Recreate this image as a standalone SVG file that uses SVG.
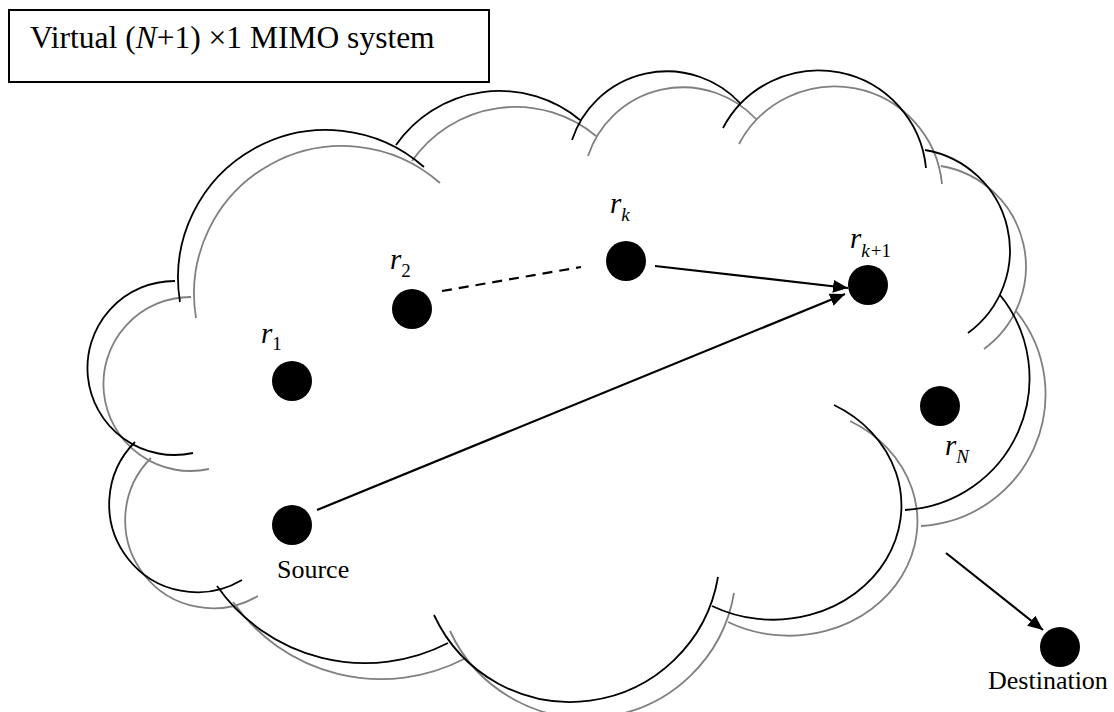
<svg xmlns="http://www.w3.org/2000/svg" xmlns:xlink="http://www.w3.org/1999/xlink" width="1114" height="712" viewBox="0 0 1114 712">
  <style>
    text { font-family: "Liberation Serif", "Times New Roman", serif; fill: #000; }
    .it { font-style: italic; }
    .lbl { font-size: 29px; }
    .sub { font-size: 19px; }
    .cap { font-size: 26px; }
    .node { fill: #000; }
    .link { stroke: #000; stroke-width: 2.2; fill: none; }
    .dash { stroke-dasharray: 10 7; }
    .outline { fill: none; stroke-width: 1.8; }
  </style>
  <defs>
    <!-- cloud outline: one arc per lobe, each lobe drawn as its own sub-path -->
    <path id="cloud" d="
      M193,453 A87,87 0 1,1 175,281
      M180,302 A148,148 0 0,1 424,167
      M396,145 A126,126 0 0,1 580,120
      M572,140 A100,100 0 0,1 740,103
      M723,128 A108,108 0 0,1 926,168
      M925,150 A102,102 0 0,1 968,333
      M1000,295 A132,132 0 0,1 905,510
      M834,405 A127,113 0 1,1 712,606
      M718,577 A150,150 0 0,1 434,615
      M448,643 A181,181 0 0,1 217,586
      M242,580 A88,88 0 0,1 135,442"/>
    <marker id="head" markerUnits="userSpaceOnUse" markerWidth="16" markerHeight="13" refX="15" refY="6.5" orient="auto">
      <path d="M0,0 L15,6.5 L0,13 z" fill="#000"/>
    </marker>
  </defs>

  <!-- title box -->
  <g id="title">
    <rect x="9" y="10" width="480" height="72" fill="none" stroke="#000" stroke-width="2"/>
    <text x="30" y="48" font-size="31.5">Virtual (<tspan class="it">N</tspan>+1) ×1 MIMO system</text>
  </g>

  <!-- cloud with its grey drop shadow -->
  <g id="cloud-shape">
    <use xlink:href="#cloud" href="#cloud" class="outline" stroke="#808080" transform="translate(16,16)"/>
    <use xlink:href="#cloud" href="#cloud" class="outline" stroke="#000"/>
  </g>

  <!-- links between nodes -->
  <g id="connectors">
    <line class="link dash" x1="442" y1="291" x2="581" y2="267"/>
    <line class="link" x1="655" y1="266" x2="848" y2="288" marker-end="url(#head)"/>
    <line class="link" x1="317" y1="510" x2="845" y2="294" marker-end="url(#head)"/>
    <line class="link" x1="946" y1="553" x2="1043" y2="630" marker-end="url(#head)"/>
  </g>

  <g id="node-r1">
    <circle class="node" cx="292" cy="381" r="20"/>
    <text x="261" y="343" class="lbl"><tspan class="it">r</tspan><tspan class="sub" dy="7">1</tspan></text>
  </g>
  <g id="node-r2">
    <circle class="node" cx="412" cy="309" r="20"/>
    <text x="390" y="269" class="lbl"><tspan class="it">r</tspan><tspan class="sub" dy="8">2</tspan></text>
  </g>
  <g id="node-rk">
    <circle class="node" cx="626" cy="261" r="20"/>
    <text x="610" y="213" class="lbl"><tspan class="it">r</tspan><tspan class="sub it" dy="8">k</tspan></text>
  </g>
  <g id="node-rk1">
    <circle class="node" cx="868" cy="285" r="20"/>
    <text x="850" y="248" class="lbl"><tspan class="it">r</tspan><tspan class="sub it" dy="9">k</tspan><tspan class="sub" dx="1">+1</tspan></text>
  </g>
  <g id="node-rN">
    <circle class="node" cx="940" cy="406" r="20"/>
    <text x="945" y="455" class="lbl"><tspan class="it">r</tspan><tspan class="sub it" dy="8">N</tspan></text>
  </g>
  <g id="node-source">
    <circle class="node" cx="292" cy="525" r="20"/>
    <text x="277" y="578" class="cap">Source</text>
  </g>
  <g id="node-destination">
    <circle class="node" cx="1060" cy="647" r="20"/>
    <text x="988" y="689" class="cap">Destination</text>
  </g>
</svg>
